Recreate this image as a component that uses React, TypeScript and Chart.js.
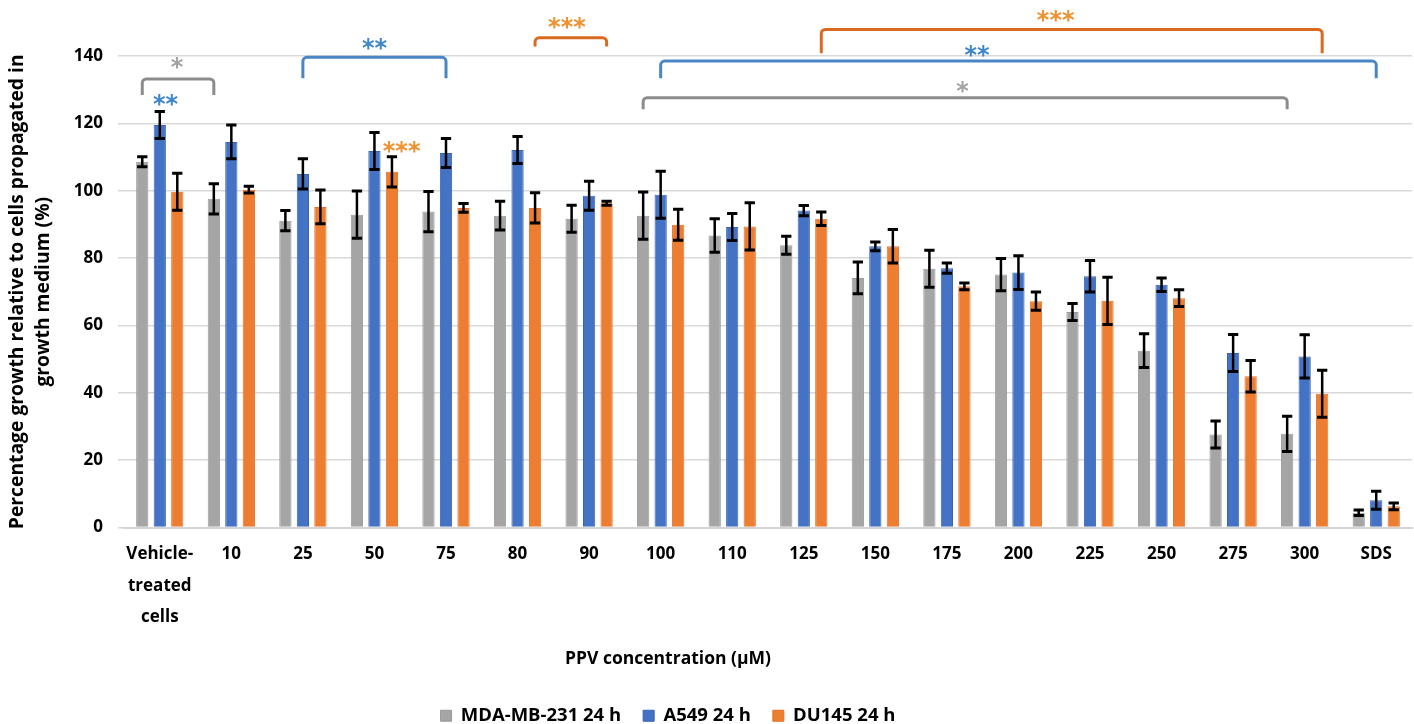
import React, { useEffect, useRef } from 'react';
import { Chart, registerables } from 'chart.js';

Chart.register(...registerables);

// ---------- data ----------
const categories = ['Vehicle-\ntreated\ncells', '10', '25', '50', '75', '80', '90', '100', '110', '125', '150', '175', '200', '225', '250', '275', '300', 'SDS'];
const seriesNames = ['MDA-MB-231 24 h', 'A549 24 h', 'DU145 24 h'];

const mdaValues = [108.6, 97.6, 91.1, 92.9, 93.8, 92.6, 91.7, 92.6, 86.7, 83.8, 74.1, 76.8, 75.1, 64.0, 52.5, 27.6, 27.8, 4.4];
const mdaErrors = [1.5, 4.5, 3.0, 7.0, 6.0, 4.3, 4.0, 7.0, 5.0, 2.7, 4.7, 5.5, 4.8, 2.5, 5.0, 4.0, 5.2, 0.8];
const a549Values = [119.5, 114.5, 105.0, 111.8, 111.2, 112.1, 98.5, 98.8, 89.2, 94.1, 83.5, 77.0, 75.7, 74.6, 72.1, 51.8, 50.8, 8.1];
const a549Errors = [4.0, 5.0, 4.5, 5.5, 4.3, 4.0, 4.3, 7.0, 4.0, 1.5, 1.3, 1.5, 5.0, 4.7, 2.0, 5.5, 6.4, 2.7];
const du145Values = [99.7, 100.3, 95.2, 105.6, 94.9, 94.9, 96.3, 89.9, 89.4, 91.7, 83.5, 71.6, 67.2, 67.3, 68.1, 44.9, 39.7, 6.3];
const du145Errors = [5.5, 1.0, 5.0, 4.5, 1.3, 4.5, 0.6, 4.6, 7.0, 2.0, 5.0, 1.0, 2.7, 7.0, 2.5, 4.7, 7.0, 1.0];

const yMin = 0;
const yMax = 140;
const yStep = 20;

// significance brackets (series index, start/end category, heights in y units)
const bracketLabels = ['*', '**', '***', '***', '**', '*'];
const bracketSeries = [0, 1, 2, 2, 1, 0];
const bracketStart = [0, 2, 5, 9, 7, 7];
const bracketEnd = [1, 4, 6, 16, 17, 16];
const bracketTop = [133.2, 139.6, 145.4, 147.9, 138.5, 127.6];
const bracketFoot = [128.4, 133.4, 142.8, 140.8, 133.4, 124.2];
const bracketLabelCat = [0.24, 3.0, 5.69, 12.52, 11.42, 11.22];
const bracketLabelY = [137.9, 143.5, 149.7, 151.9, 141.6, 130.9];

// free-standing significance marks
const markLabels = ['**', '***'];
const markSeries = [1, 2];
const markCat = [0.08, 3.38];
const markY = [127.0, 113.1];

// ---------- layout / styles ----------
const PAGE_W = 1414;
const PAGE_H = 724;
const SHIFT = 76; // canvas extends this far left of the page so centred boxes sit where the reference has them
const CANVAS_W = PAGE_W + SHIFT;

const FONT = '"Open Sans", "DejaVu Sans", sans-serif';
const barColors = ['#A5A5A5', '#4472C4', '#ED7D31'];
const barBorders = ['#9A9A9A', '#3A64B0', '#E47228'];
const bracketColors = ['#8C8C8C', '#4A86C4', '#DB6A21'];
const starColors = ['#A3A3A3', '#3F86C9', '#F0902E'];

const errorSets = [mdaErrors, a549Errors, du145Errors];

const errorBarPlugin = {
  id: 'errorBars',
  afterDatasetsDraw(chart: any) {
    const ctx = chart.ctx;
    const ys = chart.scales.y;
    chart.data.datasets.forEach((ds: any, di: number) => {
      const meta = chart.getDatasetMeta(di);
      meta.data.forEach((bar: any, i: number) => {
        const v = ds.data[i];
        const e = errorSets[di][i];
        const yt = ys.getPixelForValue(v + e);
        const yb = ys.getPixelForValue(v - e);
        const half = bar.width * 0.42;
        ctx.save();
        ctx.strokeStyle = '#000';
        ctx.lineWidth = 2.5;
        ctx.beginPath();
        ctx.moveTo(bar.x, yt);
        ctx.lineTo(bar.x, yb);
        ctx.stroke();
        ctx.lineWidth = 3;
        ctx.beginPath();
        ctx.moveTo(bar.x - half, yt);
        ctx.lineTo(bar.x + half, yt);
        ctx.moveTo(bar.x - half, yb);
        ctx.lineTo(bar.x + half, yb);
        ctx.stroke();
        ctx.restore();
      });
    });
  },
};

function drawStars(ctx: any, text: string, x: number, y: number, color: string) {
  ctx.save();
  ctx.font = 'bold 24px "DejaVu Sans", sans-serif';
  ctx.fillStyle = color;
  ctx.textAlign = 'center';
  ctx.textBaseline = 'alphabetic';
  const m = ctx.measureText(text);
  const base = y + (m.actualBoundingBoxAscent - m.actualBoundingBoxDescent) / 2;
  ctx.fillText(text, x, base);
  ctx.restore();
}

const significancePlugin = {
  id: 'significance',
  afterDraw(chart: any) {
    const ctx = chart.ctx;
    const xs = chart.scales.x;
    const ys = chart.scales.y;
    const r = 4;
    for (let k = 0; k < bracketLabels.length; k++) {
      const s = bracketSeries[k];
      const meta = chart.getDatasetMeta(s);
      const x1 = meta.data[bracketStart[k]].x;
      const x2 = meta.data[bracketEnd[k]].x;
      const yt = ys.getPixelForValue(bracketTop[k]);
      const yf = ys.getPixelForValue(bracketFoot[k]);
      ctx.save();
      ctx.strokeStyle = bracketColors[s];
      ctx.lineWidth = 3;
      ctx.beginPath();
      ctx.moveTo(x1, yf);
      ctx.lineTo(x1, yt + r);
      ctx.arcTo(x1, yt, x1 + r, yt, r);
      ctx.lineTo(x2 - r, yt);
      ctx.arcTo(x2, yt, x2, yt + r, r);
      ctx.lineTo(x2, yf);
      ctx.stroke();
      ctx.restore();
      drawStars(ctx, bracketLabels[k], xs.getPixelForValue(bracketLabelCat[k]), ys.getPixelForValue(bracketLabelY[k]), starColors[s]);
    }
    for (let k = 0; k < markLabels.length; k++) {
      drawStars(ctx, markLabels[k], xs.getPixelForValue(markCat[k]), ys.getPixelForValue(markY[k]), starColors[markSeries[k]]);
    }
  },
};

export default function App() {
  const canvasRef = useRef<HTMLCanvasElement | null>(null);

  useEffect(() => {
    document.body.style.margin = '0';
    document.body.style.overflow = 'hidden';
    const canvas = canvasRef.current;
    if (!canvas) return;
    const values = [mdaValues, a549Values, du145Values];
    const chart = new Chart(canvas, {
      type: 'bar',
      data: {
        labels: categories.map((c) => (c.includes('\n') ? c.split('\n') : c)),
        datasets: seriesNames.map((name, i) => ({
          label: name,
          data: values[i],
          backgroundColor: barColors[i],
          borderColor: barBorders[i],
          borderWidth: 1,
          categoryPercentage: 0.734,
          barPercentage: 0.7,
        })),
      },
      options: {
        responsive: false,
        animation: false,
        devicePixelRatio: 1,
        layout: { padding: { top: 56, right: 2, left: 0, bottom: -11 } },
        plugins: {
          tooltip: { enabled: false },
          legend: {
            position: 'bottom',
            labels: {
              boxWidth: 11,
              boxHeight: 11,
              padding: 22,
              color: '#000',
              font: { family: FONT, size: 18.5, weight: 'bold' },
            },
          },
          title: {
            display: true,
            position: 'bottom',
            weight: 500,
            text: 'PPV concentration (\u00B5M)',
            color: '#000',
            font: { family: FONT, size: 17.5, weight: 'bold', lineHeight: 1.2 },
            padding: { top: 4, bottom: 15 },
          } as any,
        },
        scales: {
          x: {
            afterFit: (s: any) => {
              s.height = 117;
            },
            grid: { display: false, drawTicks: false },
            border: { display: true, color: '#D4D4D4', width: 2 },
            ticks: {
              color: '#000',
              padding: 11,
              maxRotation: 0,
              autoSkip: false,
              font: { family: FONT, size: 17, weight: 'bold', lineHeight: 1.853 },
            },
          },
          y: {
            min: yMin,
            max: yMax,
            afterFit: (s: any) => {
              s.width = 124 + SHIFT;
            },
            ticks: {
              stepSize: yStep,
              color: '#000',
              padding: 15,
              font: { family: FONT, size: 17, weight: 'bold' },
            },
            grid: { color: '#D9D9D9', lineWidth: 1.5, tickLength: 6, drawTicks: true },
            border: { display: false },
            title: {
              display: true,
              text: ['Percentage growth relative to cells propagated in', 'growth medium (%)'],
              color: '#000',
              font: { family: FONT, size: 19.3, weight: 'bold', lineHeight: 1.347 },
              padding: { top: SHIFT + 5, bottom: 0 },
            },
          },
        },
      },
      plugins: [errorBarPlugin, significancePlugin],
    } as any);
    return () => chart.destroy();
  }, []);

  return (
    <div style={{ width: PAGE_W, height: PAGE_H, position: 'relative', overflow: 'hidden', background: '#fff' }}>
      <canvas
        ref={canvasRef}
        width={CANVAS_W}
        height={PAGE_H}
        style={{ display: 'block', position: 'absolute', left: -SHIFT, top: 0 }}
      />
    </div>
  );
}
